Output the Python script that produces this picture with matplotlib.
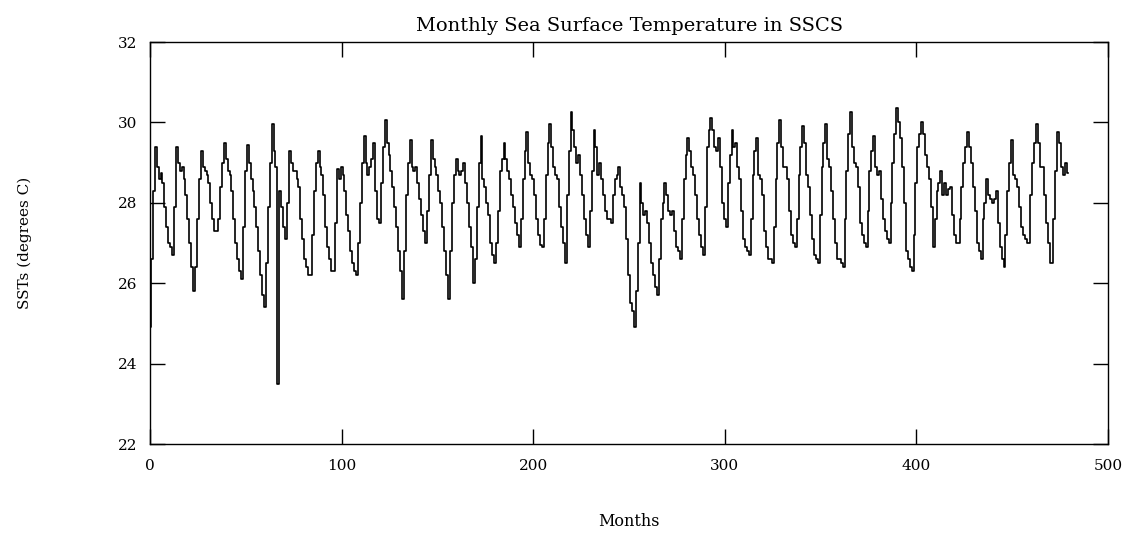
import matplotlib
matplotlib.use("Agg")
import matplotlib.pyplot as plt
import numpy as np

title = "Monthly Sea Surface Temperature in SSCS"
xlabel = "Months"
ylabel = "SSTs (degrees C)"
xticks = [0, 100, 200, 300, 400, 500]
yticks = [22, 24, 26, 28, 30, 32]

# monthly SST values, one row per 12 months
year_rows = [
    [24.9, 26.6, 28.3, 29.4, 28.9, 28.6, 28.75, 28.5, 27.9, 27.4, 27.0, 26.9],
    [26.7, 27.9, 29.4, 29.0, 28.8, 28.9, 28.6, 28.2, 27.6, 27.0, 26.4, 25.8],
    [26.4, 27.6, 28.6, 29.3, 28.9, 28.8, 28.7, 28.5, 28.0, 27.6, 27.3, 27.3],
    [27.6, 28.4, 29.0, 29.5, 29.1, 28.8, 28.7, 28.3, 27.6, 27.0, 26.6, 26.3],
    [26.1, 27.4, 28.8, 29.45, 29.0, 28.6, 28.3, 27.9, 27.4, 26.8, 26.2, 25.7],
    [25.4, 26.5, 27.9, 29.0, 29.95, 29.3, 28.9, 23.5, 28.3, 27.9, 27.4, 27.1],
    [28.0, 29.3, 29.0, 28.8, 28.8, 28.6, 28.4, 27.6, 27.1, 26.6, 26.4, 26.2],
    [26.2, 27.2, 28.3, 29.0, 29.3, 28.9, 28.7, 28.2, 27.4, 26.9, 26.6, 26.3],
    [26.3, 27.5, 28.85, 28.6, 28.9, 28.7, 28.3, 27.7, 27.3, 26.8, 26.5, 26.3],
    [26.2, 27.0, 28.0, 29.0, 29.65, 29.0, 28.7, 28.9, 29.1, 29.5, 28.3, 27.6],
    [27.5, 28.5, 29.4, 30.05, 29.5, 29.2, 28.8, 28.4, 27.9, 27.4, 26.8, 26.3],
    [25.6, 26.8, 28.2, 29.0, 29.55, 28.9, 28.8, 28.9, 28.5, 28.1, 27.7, 27.3],
    [27.0, 27.8, 28.7, 29.55, 29.1, 28.9, 28.7, 28.3, 28.0, 27.4, 26.8, 26.2],
    [25.6, 26.8, 28.0, 28.7, 29.1, 28.8, 28.7, 28.8, 29.0, 28.5, 28.0, 27.4],
    [26.9, 26.0, 26.6, 27.9, 29.0, 29.65, 28.6, 28.4, 28.0, 27.7, 27.0, 26.7],
    [26.5, 27.0, 27.8, 28.8, 29.1, 29.5, 29.1, 28.8, 28.6, 28.2, 27.9, 27.5],
    [27.2, 26.9, 27.6, 28.6, 29.3, 29.75, 29.0, 28.7, 28.6, 28.2, 27.6, 27.2],
    [26.95, 26.9, 27.6, 28.7, 29.5, 29.95, 29.4, 28.9, 28.7, 28.6, 27.9, 27.4],
    [27.0, 26.5, 28.2, 29.3, 30.25, 29.8, 29.4, 29.0, 29.2, 28.7, 28.2, 27.6],
    [27.2, 26.9, 27.8, 28.8, 29.8, 29.4, 28.7, 29.0, 28.6, 28.2, 27.8, 27.6],
    [27.6, 27.5, 28.2, 28.6, 28.7, 28.9, 28.4, 28.2, 27.9, 27.1, 26.2, 25.5],
    [25.3, 24.9, 25.8, 27.0, 28.5, 28.0, 27.7, 27.8, 27.5, 27.0, 26.5, 26.2],
    [25.9, 25.7, 26.6, 27.6, 28.0, 28.5, 28.2, 27.8, 27.7, 27.8, 27.3, 26.9],
    [26.8, 26.6, 27.6, 28.6, 29.2, 29.6, 29.3, 28.9, 28.7, 28.2, 27.6, 27.2],
    [26.9, 26.7, 27.9, 29.4, 29.8, 30.1, 29.8, 29.4, 29.3, 29.6, 28.9, 28.0],
    [27.6, 27.4, 28.5, 29.2, 29.8, 29.4, 29.5, 28.9, 28.6, 27.8, 27.1, 26.9],
    [26.8, 26.7, 27.6, 28.7, 29.3, 29.6, 28.7, 28.6, 28.2, 27.3, 26.9, 26.6],
    [26.6, 26.5, 27.4, 28.6, 29.5, 30.05, 29.4, 28.9, 28.9, 28.6, 27.8, 27.2],
    [27.0, 26.9, 27.6, 28.7, 29.4, 29.9, 29.5, 28.7, 28.4, 27.7, 27.1, 26.7],
    [26.6, 26.5, 27.7, 28.9, 29.5, 29.95, 29.1, 28.9, 28.3, 27.6, 27.0, 26.6],
    [26.6, 26.5, 26.4, 27.6, 28.8, 29.7, 30.25, 29.4, 29.0, 28.9, 28.4, 27.5],
    [27.2, 27.0, 26.9, 27.8, 28.8, 29.3, 29.65, 28.9, 28.7, 28.8, 28.1, 27.6],
    [27.3, 27.1, 27.0, 28.0, 29.0, 29.7, 30.35, 30.0, 29.6, 28.9, 28.0, 26.8],
    [26.6, 26.4, 26.3, 27.2, 28.5, 29.4, 29.7, 30.0, 29.7, 29.2, 28.9, 28.6],
    [27.9, 26.9, 27.6, 28.3, 28.5, 28.8, 28.2, 28.5, 28.2, 28.35, 28.4, 27.7],
    [27.2, 27.0, 27.0, 27.6, 28.4, 29.0, 29.4, 29.75, 29.4, 29.0, 28.4, 27.8],
    [27.0, 26.8, 26.6, 27.6, 28.0, 28.6, 28.2, 28.1, 28.0, 28.1, 28.3, 27.5],
    [26.9, 26.6, 26.4, 27.2, 28.3, 29.0, 29.55, 28.7, 28.6, 28.4, 27.9, 27.4],
    [27.2, 27.1, 27.0, 27.0, 28.2, 29.0, 29.5, 29.95, 29.5, 28.9, 28.9, 28.2],
    [27.5, 27.0, 26.5, 26.5, 27.6, 28.8, 29.75, 29.5, 28.9, 28.7, 29.0, 28.75],
]

sst = [v for row in year_rows for v in row]
months = list(range(len(sst)))

plt.rcParams['font.family'] = ['DejaVu Serif']

W, H = 1134, 533
fig = plt.figure(figsize=(W / 100, H / 100), dpi=100)
ax = fig.add_axes([150 / W, 1 - 444 / H, (1108 - 150) / W, (444 - 42) / H])
ax.plot(months, sst, color='black', linewidth=1.2, drawstyle='steps-mid')
ax.set_xlim(0, 500)
ax.set_ylim(22, 32)
ax.set_xticks(xticks)
ax.set_yticks(yticks)
ax.tick_params(direction='in', length=11, width=1, top=True, right=True,
               labelsize=11)
ax.tick_params(axis='x', pad=11)
ax.tick_params(axis='y', pad=9)
for s in ax.spines.values():
    s.set_linewidth(1.0)
fig.text(629 / W, 1 - 26 / H, title, ha='center', va='center', fontsize=14)
fig.text(629 / W, 1 - 521 / H, xlabel, ha='center', va='center', fontsize=11.5)
fig.text(25 / W, 1 - 243 / H, ylabel, ha='center', va='center', rotation=90, fontsize=11)
fig.savefig("out.png", dpi=100)
